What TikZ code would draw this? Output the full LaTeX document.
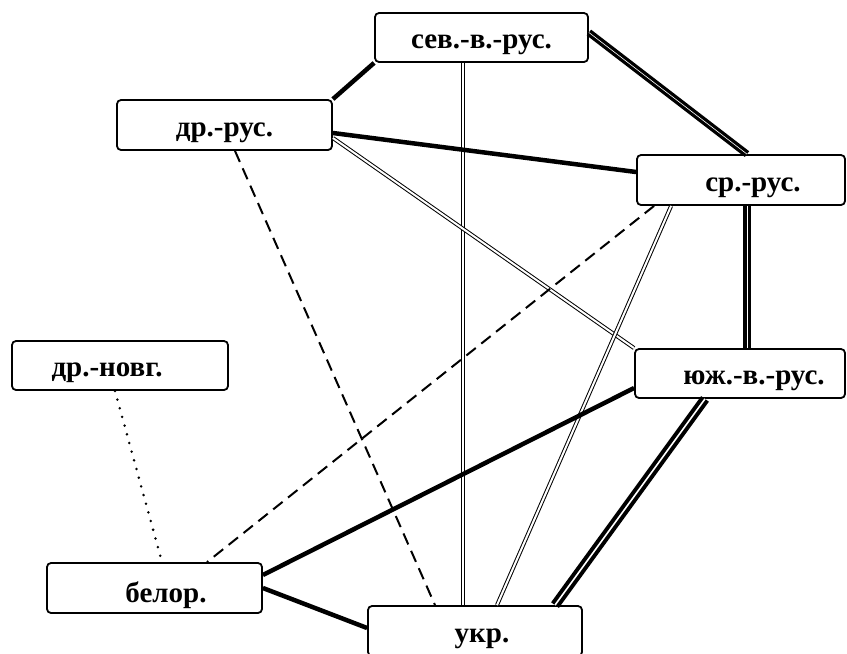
\documentclass[tikz,border=0pt]{standalone}
\usepackage{fontspec}
\setmainfont{Liberation Serif}
\usetikzlibrary{calc}
\newcommand{\lowtxt}[1]{\raisebox{-7.5pt}[\height][\depth]{#1}}
\begin{document}
\begin{tikzpicture}[x=1pt,y=-1pt,
  box/.style={draw, line width=1.8pt, rounded corners=4pt, inner sep=0pt,
    font=\fontsize{29}{34}\selectfont\bfseries},
  thickline/.style={line width=4.5pt},
  thinpair/.style={line width=1pt, double=white, double distance=2pt},
  heavypair/.style={line width=3.3pt, double=white, double distance=0.6pt},
  triplepair/.style={line width=4pt, double=white, double distance=1.6pt},
  dashline/.style={line width=2pt, dash pattern=on 12pt off 7pt},
  dotline/.style={line width=2.8pt, line cap=round, dash pattern=on 0pt off 9pt}]
\useasboundingbox (0,0) rectangle (847,654);
% nodes
\node[box, minimum width=213pt, minimum height=49pt] (sev) at (481.5,37.5) {\lowtxt{сев.-в.-рус.}};
\node[box, minimum width=215pt, minimum height=50pt] (drrus) at (224.5,125) {\lowtxt{др.-рус.}};
\node[box, minimum width=208pt, minimum height=50pt] (sr) at (741,180) {\lowtxt{\hspace*{24pt}ср.-рус.}};
\node[box, minimum width=210pt, minimum height=49pt] (juzh) at (740,373.5) {\lowtxt{\hspace*{28pt}юж.-в.-рус.}};
\node[box, minimum width=216pt, minimum height=49pt] (novg) at (120,365.5) {\lowtxt{др.-новг.\hspace*{26pt}}};
\node[box, minimum width=215pt, minimum height=50pt] (belor) at (154.5,588) {\lowtxt{\hspace*{23pt}белор.}};
\node[box, minimum width=214pt, minimum height=50pt] (ukr) at (475,631) {\lowtxt{\hspace*{14pt}укр.}};
% connectors
\draw[thickline] (sev.south west) -- (drrus.north east);
\draw[heavypair] ([yshift=5]sev.east) -- ([xshift=6]sr.north);
\draw[thinpair] ([xshift=-18.5]sev.south) -- ([xshift=-12]ukr.north);
\draw[thickline] ([yshift=-8]drrus.east) -- ([yshift=8]sr.west);
\draw[thinpair] ([yshift=-13]drrus.east) -- (juzh.north west);
\draw[dashline] ([xshift=10.5]drrus.south) -- ([xshift=-40]ukr.north);
\draw[dashline] ([xshift=18]sr.south west) -- ([xshift=52.5]belor.north);
\draw[thinpair] ([xshift=35]sr.south west) -- ([xshift=22]ukr.north);
\draw[heavypair] ([xshift=6]sr.south) -- ([xshift=7]juzh.north);
\draw[thickline] ([yshift=-14.5]juzh.west) -- ([yshift=13]belor.east);
\draw[triplepair] ([xshift=-35]juzh.south) -- ([xshift=80]ukr.north);
\draw[dotline] ([xshift=-5]novg.south) -- ([xshift=7.5]belor.north);
\draw[thickline] (belor.east) -- ([yshift=3]ukr.west);
\end{tikzpicture}
\end{document}
